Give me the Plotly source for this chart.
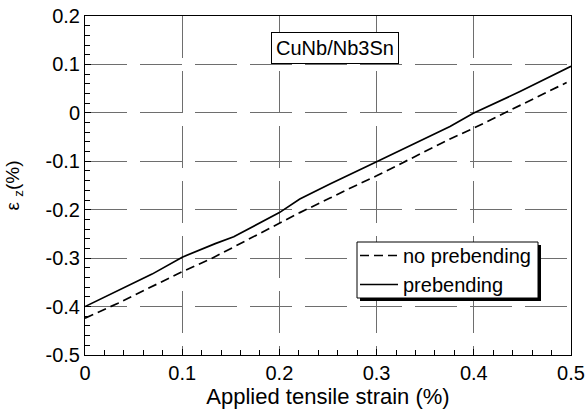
import plotly.graph_objects as go

# Data
x_nopre = [0, 0.034, 0.1, 0.129, 0.153, 0.187, 0.2, 0.221, 0.252, 0.269, 0.3, 0.3755, 0.3995, 0.4475, 0.4955]
y_nopre = [-0.424, -0.393, -0.328, -0.302, -0.277, -0.242, -0.228, -0.206, -0.176, -0.159, -0.130, -0.054, -0.032, 0.0145, 0.0626]

x_pre = [0, 0.027, 0.069, 0.1, 0.118, 0.134, 0.153, 0.187, 0.2, 0.221, 0.252, 0.3, 0.3755, 0.3995, 0.4475, 0.5]
y_pre = [-0.400, -0.374, -0.333, -0.298, -0.283, -0.270, -0.256, -0.221, -0.206, -0.178, -0.147, -0.101, -0.028, -0.001, 0.044, 0.096]

x_ticks = [0, 0.1, 0.2, 0.3, 0.4, 0.5]
x_ticktext = ["0", "0.1", "0.2", "0.3", "0.4", "0.5"]
y_ticks = [-0.5, -0.4, -0.3, -0.2, -0.1, 0, 0.1, 0.2]
y_ticktext = ["-0.5", "-0.4", "-0.3", "-0.2", "-0.1", "0", "0.1", "0.2"]

FONT = "Arial, Liberation Sans, sans-serif"
W, H = 586, 417
L, R, T, B = 85, 15, 16, 62
PW, PH = W - L - R, H - T - B


def px_x(p):
    return (p - L) / PW


def px_y(p):
    return (H - B - p) / PH


fig = go.Figure()
fig.add_trace(go.Scatter(x=x_nopre, y=y_nopre, mode="lines", name="no prebending",
                         line=dict(color="black", width=1.7, dash="9px,5px")))
fig.add_trace(go.Scatter(x=x_pre, y=y_pre, mode="lines", name="prebending",
                         line=dict(color="black", width=1.7)))

axis_common = dict(
    showline=True, linecolor="black", linewidth=1, mirror=True,
    ticks="inside", ticklen=6, tickcolor="black",
    showgrid=True, gridcolor="#6e6e6e", gridwidth=1, griddash="42px,13px",
    zeroline=False, automargin=False,
    tickfont=dict(family=FONT, size=20, color="black"),
)

fig.update_xaxes(range=[0, 0.5], tickvals=x_ticks, ticktext=x_ticktext,
                 minor=dict(ticks="inside", dtick=0.02, ticklen=5, tickcolor="black", showgrid=False),
                 title=dict(text="Applied tensile strain (%)", font=dict(family=FONT, size=22, color="black"), standoff=4),
                 **axis_common)
fig.update_yaxes(range=[-0.5, 0.2], tickvals=y_ticks, ticktext=y_ticktext,
                 minor=dict(ticks="inside", dtick=0.02, ticklen=5, tickcolor="black", showgrid=False),
                 title=dict(text="ε <sub>z</sub>(%)", font=dict(family=FONT, size=19, color="black"), standoff=20),
                 **axis_common)

# legend box with shadow (drawn as shapes)
fig.add_shape(type="rect", xref="paper", yref="paper",
              x0=px_x(360), x1=px_x(541), y0=px_y(301), y1=px_y(245),
              fillcolor="black", line=dict(width=0), layer="above")
fig.add_shape(type="rect", xref="paper", yref="paper",
              x0=px_x(357), x1=px_x(538), y0=px_y(298), y1=px_y(242),
              fillcolor="white", line=dict(color="black", width=1), layer="above")

fig.add_annotation(x=px_x(335), y=px_y(48.5), xref="paper", yref="paper",
                   xanchor="center", yanchor="middle", text="CuNb/Nb3Sn", showarrow=False,
                   font=dict(family=FONT, size=20, color="black"),
                   bordercolor="black", borderwidth=1, borderpad=4, bgcolor="white")

fig.update_layout(
    width=W, height=H,
    margin=dict(l=L, r=R, t=T, b=B, autoexpand=False),
    paper_bgcolor="white", plot_bgcolor="white",
    showlegend=True,
    legend=dict(x=px_x(355), y=px_y(236), xanchor="left", yanchor="top",
                bgcolor="rgba(0,0,0,0)", borderwidth=0,
                font=dict(family=FONT, size=20, color="black"),
                tracegroupgap=0, itemwidth=38),
)

fig.write_html("out.html")
